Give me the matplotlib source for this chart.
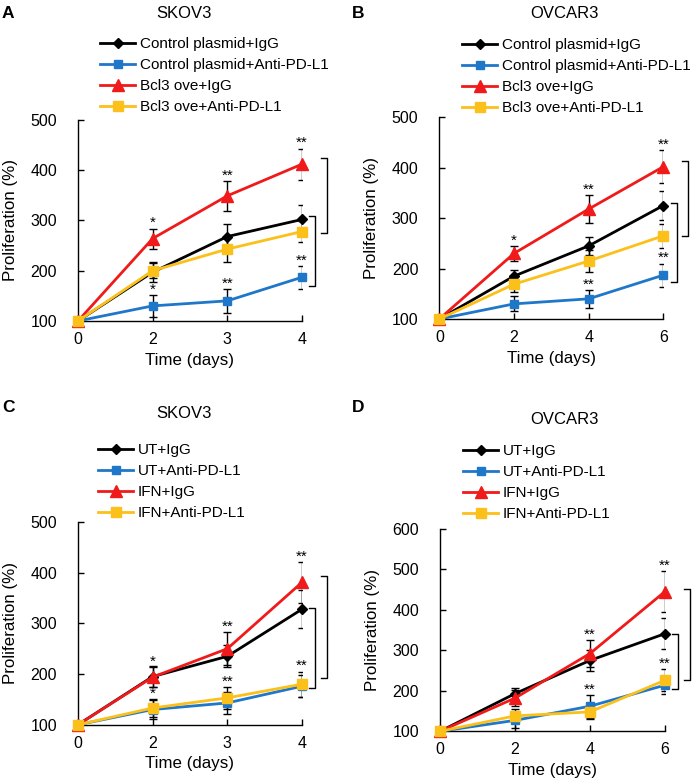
import matplotlib
matplotlib.use("Agg")
import matplotlib.pyplot as plt

plt.rcParams["font.family"] = ["Liberation Sans", "DejaVu Sans"]

# ---- data ----
days_skov3 = ["0", "2", "3", "4"]
days_ovcar3 = ["0", "2", "4", "6"]

labels_ab = ["Control plasmid+IgG", "Control plasmid+Anti-PD-L1",
             "Bcl3 ove+IgG", "Bcl3 ove+Anti-PD-L1"]
labels_cd = ["UT+IgG", "UT+Anti-PD-L1", "IFN+IgG", "IFN+Anti-PD-L1"]

# panel A (SKOV3, Bcl3)
a_black = [100, 197, 268, 302]
a_blue = [100, 130, 140, 187]
a_red = [100, 264, 349, 412]
a_yellow = [100, 200, 243, 278]
a_black_err = [0, 20, 25, 28]
a_blue_err = [0, 22, 24, 23]
a_red_err = [0, 20, 30, 31]
a_yellow_err = [0, 15, 25, 20]

# panel B (OVCAR3, Bcl3)
b_black = [100, 185, 245, 325]
b_blue = [100, 130, 140, 187]
b_red = [100, 230, 318, 402]
b_yellow = [100, 169, 215, 265]
b_black_err = [0, 12, 18, 28]
b_blue_err = [0, 15, 18, 23]
b_red_err = [0, 15, 28, 33]
b_yellow_err = [0, 15, 22, 24]

# panel C (SKOV3, IFN)
c_black = [100, 195, 235, 328]
c_blue = [100, 130, 143, 176]
c_red = [100, 194, 250, 381]
c_yellow = [100, 133, 153, 180]
c_black_err = [0, 20, 22, 38]
c_blue_err = [0, 18, 22, 22]
c_red_err = [0, 20, 33, 40]
c_yellow_err = [0, 18, 22, 25]

# panel D (OVCAR3, IFN)
d_black = [100, 193, 275, 341]
d_blue = [100, 127, 162, 214]
d_red = [100, 182, 292, 445]
d_yellow = [100, 138, 148, 226]
d_black_err = [0, 15, 25, 38]
d_blue_err = [0, 20, 28, 22]
d_red_err = [0, 20, 33, 50]
d_yellow_err = [0, 17, 17, 27]

# significance marks: (series index, time index, text)
a_stars = [(2, 1, "*"), (1, 1, "*"), (2, 2, "**"), (1, 2, "**"), (2, 3, "**"), (1, 3, "**")]
b_stars = [(2, 1, "*"), (1, 1, "*"), (2, 2, "**"), (1, 2, "**"), (2, 3, "**"), (1, 3, "**")]
c_stars = [(2, 1, "*"), (3, 1, "*"), (2, 2, "**"), (3, 2, "**"), (2, 3, "**"), (3, 3, "**")]
d_stars = [(2, 2, "**"), (1, 2, "**"), (2, 3, "**"), (3, 3, "**")]

# comparison brackets: (y_low, y_high)
a_brackets = [(275, 424), (170, 308)]
b_brackets = [(265, 413), (174, 331)]
c_brackets = [(193, 393), (172, 330)]
d_brackets = [(227, 452), (204, 339)]

colors = ["black", "#1f77c9", "#f01a1a", "#fcc01a"]
markers = ["D", "s", "^", "s"]
msizes = [5.5, 6, 8, 6.5]

W, H = 700, 784


def px(x, y):
    return x / W, 1 - y / H


def draw_panel(fig, rect, letter, letter_xy, title, title_xy, days, labels,
               series, errs, stars, brackets, ymax, legend_xy):
    ax = fig.add_axes(rect)
    x = list(range(len(days)))
    handles = []
    for i in range(4):
        ax.errorbar(x, series[i], yerr=errs[i], fmt="none", ecolor="black",
                    elinewidth=1.0, capsize=3, capthick=1.0, zorder=2)
        (h,) = ax.plot(x, series[i], color=colors[i], marker=markers[i],
                       markersize=msizes[i], linewidth=2, label=labels[i],
                       clip_on=False, zorder=3 + i)
        handles.append(h)

    for s, t, txt in stars:
        top = series[s][t] + errs[s][t]
        ax.annotate(txt, (x[t], top), xytext=(0, 1), textcoords="offset points",
                    ha="center", va="baseline", fontsize=11)

    for k, (lo, hi) in enumerate(brackets):
        bx = 3.33 if k == 0 else 3.18
        ax.plot([bx - 0.08, bx, bx, bx - 0.08], [hi, hi, lo, lo], color="black",
                linewidth=1.0, clip_on=False)

    ax.set_xlim(0, 3)
    ax.set_ylim(100, ymax)
    ax.set_xticks(x)
    ax.set_xticklabels(days)
    ax.set_yticks(range(100, ymax + 1, 100))
    ax.tick_params(direction="in", length=4, width=1, labelsize=11.5)
    ax.tick_params(axis="y", pad=15)
    ax.tick_params(axis="x", pad=8)
    for side in ["top", "right"]:
        ax.spines[side].set_visible(False)
    for side in ["left", "bottom"]:
        ax.spines[side].set_linewidth(1.0)
    ax.set_xlabel("Time (days)", fontsize=12.2, labelpad=4)
    ax.set_ylabel("Proliferation (%)", fontsize=12.2, labelpad=9)

    fig.legend(handles=handles, loc="upper left",
               bbox_to_anchor=px(*legend_xy),
               frameon=False, fontsize=11, handlelength=2.3, handletextpad=0.3,
               labelspacing=0.46, borderpad=0, borderaxespad=0)

    fig.text(*px(*letter_xy), letter, fontsize=12.5, fontweight="bold",
             ha="left", va="center")
    fig.text(*px(*title_xy), title, fontsize=12, ha="center", va="center")
    return ax


fig = plt.figure(figsize=(W / 100, H / 100), dpi=100)

draw_panel(fig, [0.1114, 0.5906, 0.32, 0.2564], "A", (2, 13), "SKOV3", (184, 13),
           days_skov3, labels_ab,
           [a_black, a_blue, a_red, a_yellow],
           [a_black_err, a_blue_err, a_red_err, a_yellow_err],
           a_stars, a_brackets, 500, (100, 37))
draw_panel(fig, [0.6276, 0.5931, 0.32, 0.2573], "B", (352, 13), "OVCAR3", (564, 14),
           days_ovcar3, labels_ab,
           [b_black, b_blue, b_red, b_yellow],
           [b_black_err, b_blue_err, b_red_err, b_yellow_err],
           b_stars, b_brackets, 500, (462, 38))
draw_panel(fig, [0.1114, 0.0756, 0.32, 0.2585], "C", (2, 407), "SKOV3", (184, 413),
           days_skov3, labels_cd,
           [c_black, c_blue, c_red, c_yellow],
           [c_black_err, c_blue_err, c_red_err, c_yellow_err],
           c_stars, c_brackets, 500, (98, 443))
draw_panel(fig, [0.6286, 0.0672, 0.3214, 0.2584], "D", (352, 408), "OVCAR3", (564, 420),
           days_ovcar3, labels_cd,
           [d_black, d_blue, d_red, d_yellow],
           [d_black_err, d_blue_err, d_red_err, d_yellow_err],
           d_stars, d_brackets, 600, (463, 444))

fig.savefig("out.png", dpi=100)
